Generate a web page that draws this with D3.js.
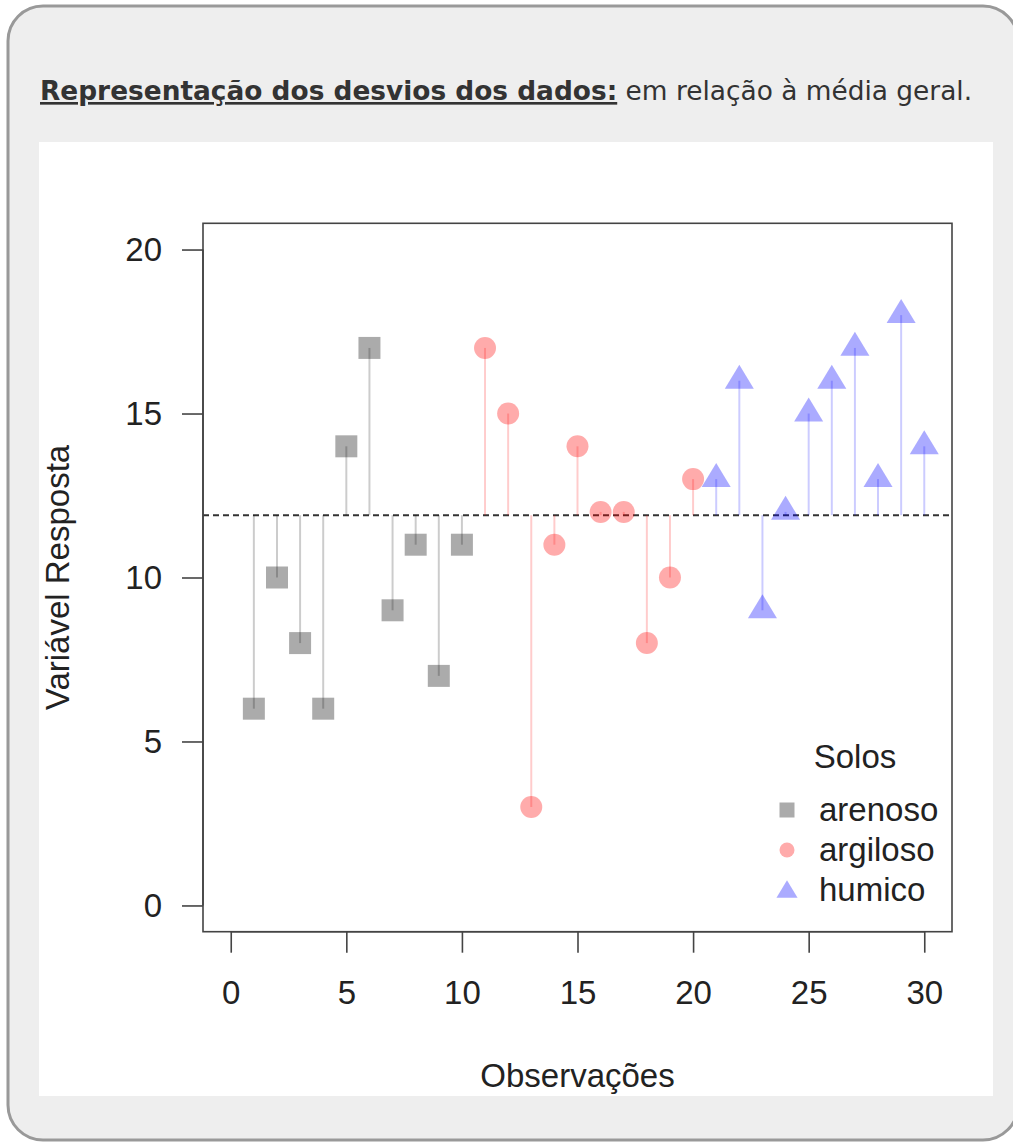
<!DOCTYPE html>
<html>
<head>
<meta charset="utf-8">
<script src="https://cdn.jsdelivr.net/npm/d3@7"></script>
<style>
  html, body { margin: 0; padding: 0; background: #ffffff; }
  svg { display: block; }
</style>
</head>
<body>
<div id="chart"></div>
<script>
// ---- data ----
const soilTypes = ["arenoso", "argiloso", "humico"];
const observations = d3.range(1, 31);
const arenosoValues = [6, 10, 8, 6, 14, 17, 9, 11, 7, 11];
const argilosoValues = [17, 15, 3, 11, 14, 12, 12, 8, 10, 13];
const humicoValues = [13, 16, 9, 12, 15, 16, 17, 13, 18, 14];
const xTicks = [0, 5, 10, 15, 20, 25, 30];
const yTicks = [0, 5, 10, 15, 20];
const titleBold = "Representação dos desvios dos dados:";
const titleRest = " em relação à média geral.";
const xLabel = "Observações";
const yLabel = "Variável Resposta";
const legendTitle = "Solos";

const values = arenosoValues.concat(argilosoValues, humicoValues);
const groups = [].concat(
  arenosoValues.map(() => "arenoso"),
  argilosoValues.map(() => "argiloso"),
  humicoValues.map(() => "humico"));
const data = observations.map((o, i) => ({obs: o, value: values[i], soil: groups[i]}));
const mean = d3.mean(values);

// ---- styles ----
const fillColor = {arenoso: "rgba(0,0,0,0.33)", argiloso: "rgba(255,0,0,0.33)", humico: "rgba(0,0,255,0.33)"};
const stemColor = {arenoso: "rgba(0,0,0,0.2)", argiloso: "rgba(255,0,0,0.2)", humico: "rgba(0,0,255,0.2)"};
const fontChart = "'Liberation Sans', Arial, Helvetica, sans-serif";

const W = 1013, H = 1142;
const svg = d3.select("#chart").append("svg").attr("width", W).attr("height", H);

// outer wiki box
svg.append("rect").attr("x", 8).attr("y", 6).attr("width", 1010).attr("height", 1134)
  .attr("rx", 35).attr("ry", 35)
  .attr("fill", "#eeeeee").attr("stroke", "#999999").attr("stroke-width", 3);

// title
const title = svg.append("text").attr("x", 40).attr("y", 100)
  .attr("font-family", "'DejaVu Sans', sans-serif").attr("font-size", 26.4).attr("fill", "#333333");
title.append("tspan").attr("font-weight", "bold").attr("text-decoration", "underline").text(titleBold);
title.append("tspan").attr("xml:space", "preserve").style("white-space", "pre").text(titleRest);

// white image
svg.append("rect").attr("x", 39).attr("y", 142).attr("width", 954).attr("height", 954).attr("fill", "#ffffff");

// plot region
const plot = {left: 203, right: 952, top: 223.3, bottom: 931.7};
const x = d3.scaleLinear().domain([-1.2, 31.2]).range([plot.left, plot.right]);
const y = d3.scaleLinear().domain([-0.8, 20.8]).range([plot.bottom, plot.top]);

const g = svg.append("g");

// mean dashed line
g.append("line")
  .attr("x1", plot.left).attr("x2", plot.right)
  .attr("y1", y(mean)).attr("y2", y(mean))
  .attr("stroke", "#333333").attr("stroke-width", 2).attr("stroke-dasharray", "6,4");

// stems
g.selectAll("line.stem").data(data).enter().append("line").attr("class", "stem")
  .attr("x1", d => x(d.obs)).attr("x2", d => x(d.obs))
  .attr("y1", y(mean)).attr("y2", d => y(d.value))
  .attr("stroke", d => stemColor[d.soil]).attr("stroke-width", 2);

// markers
function markerPath(soil, size) {
  if (soil === "arenoso") {
    const h = size / 2;
    return `M${-h},${-h}H${h}V${h}H${-h}Z`;
  } else if (soil === "argiloso") {
    const r = size / 2;
    return `M${r},0A${r},${r} 0 1,1 ${-r},0A${r},${r} 0 1,1 ${r},0Z`;
  } else {
    const hw = size * 0.66, top = -size * 0.73, bot = size * 0.36;
    return `M0,${top}L${hw},${bot}L${-hw},${bot}Z`;
  }
}
g.selectAll("path.pt").data(data).enter().append("path").attr("class", "pt")
  .attr("transform", d => `translate(${x(d.obs)},${y(d.value)})`)
  .attr("d", d => markerPath(d.soil, 22))
  .attr("fill", d => fillColor[d.soil]);

// axes box
svg.append("rect").attr("x", plot.left).attr("y", plot.top)
  .attr("width", plot.right - plot.left).attr("height", plot.bottom - plot.top)
  .attr("fill", "none").attr("stroke", "#444444").attr("stroke-width", 1.6);

// x axis (R style, offset line)
const xAxis = svg.append("g").attr("transform", `translate(0,${plot.bottom})`)
  .call(d3.axisBottom(x).tickValues(xTicks).tickSize(21).tickPadding(28).tickFormat(d3.format("d")));
xAxis.select(".domain").attr("d", `M${x(0)},0H${x(30)}`).attr("stroke", "#444").attr("stroke-width", 1.6);
xAxis.selectAll(".tick line").attr("stroke", "#444").attr("stroke-width", 1.6);
xAxis.selectAll(".tick text").attr("font-family", fontChart).attr("font-size", 33).attr("fill", "#222");

const yAxis = svg.append("g").attr("transform", `translate(${plot.left},0)`)
  .call(d3.axisLeft(y).tickValues(yTicks).tickSize(21).tickPadding(20).tickFormat(d3.format("d")));
yAxis.select(".domain").attr("d", `M0,${y(0)}V${y(20)}`).attr("stroke", "#444").attr("stroke-width", 1.6);
yAxis.selectAll(".tick line").attr("stroke", "#444").attr("stroke-width", 1.6);
yAxis.selectAll(".tick text").attr("font-family", fontChart).attr("font-size", 33).attr("fill", "#222");

// axis titles
svg.append("text").attr("x", (plot.left + plot.right) / 2).attr("y", 1087)
  .attr("text-anchor", "middle").attr("font-family", fontChart).attr("font-size", 33).attr("fill", "#222")
  .text(xLabel);
svg.append("text").attr("transform", `translate(69,${(plot.top + plot.bottom) / 2}) rotate(-90)`)
  .attr("text-anchor", "middle").attr("font-family", fontChart).attr("font-size", 33).attr("fill", "#222")
  .text(yLabel);

// legend
const leg = svg.append("g");
leg.append("text").attr("x", 855).attr("y", 768).attr("text-anchor", "middle")
  .attr("font-family", fontChart).attr("font-size", 33).attr("fill", "#222").text(legendTitle);
const legItems = leg.selectAll("g.item").data(soilTypes).enter().append("g").attr("class", "item")
  .attr("transform", (d, i) => `translate(0,${810 + i * 40})`);
legItems.append("path")
  .attr("transform", d => `translate(787,${d === "humico" ? 2 : 0})`)
  .attr("d", d => markerPath(d, d === "humico" ? 16 : 15))
  .attr("fill", d => fillColor[d]);
legItems.append("text").attr("x", 819).attr("y", 11)
  .attr("font-family", fontChart).attr("font-size", 33).attr("fill", "#222").text(d => d);
</script>
</body>
</html>
